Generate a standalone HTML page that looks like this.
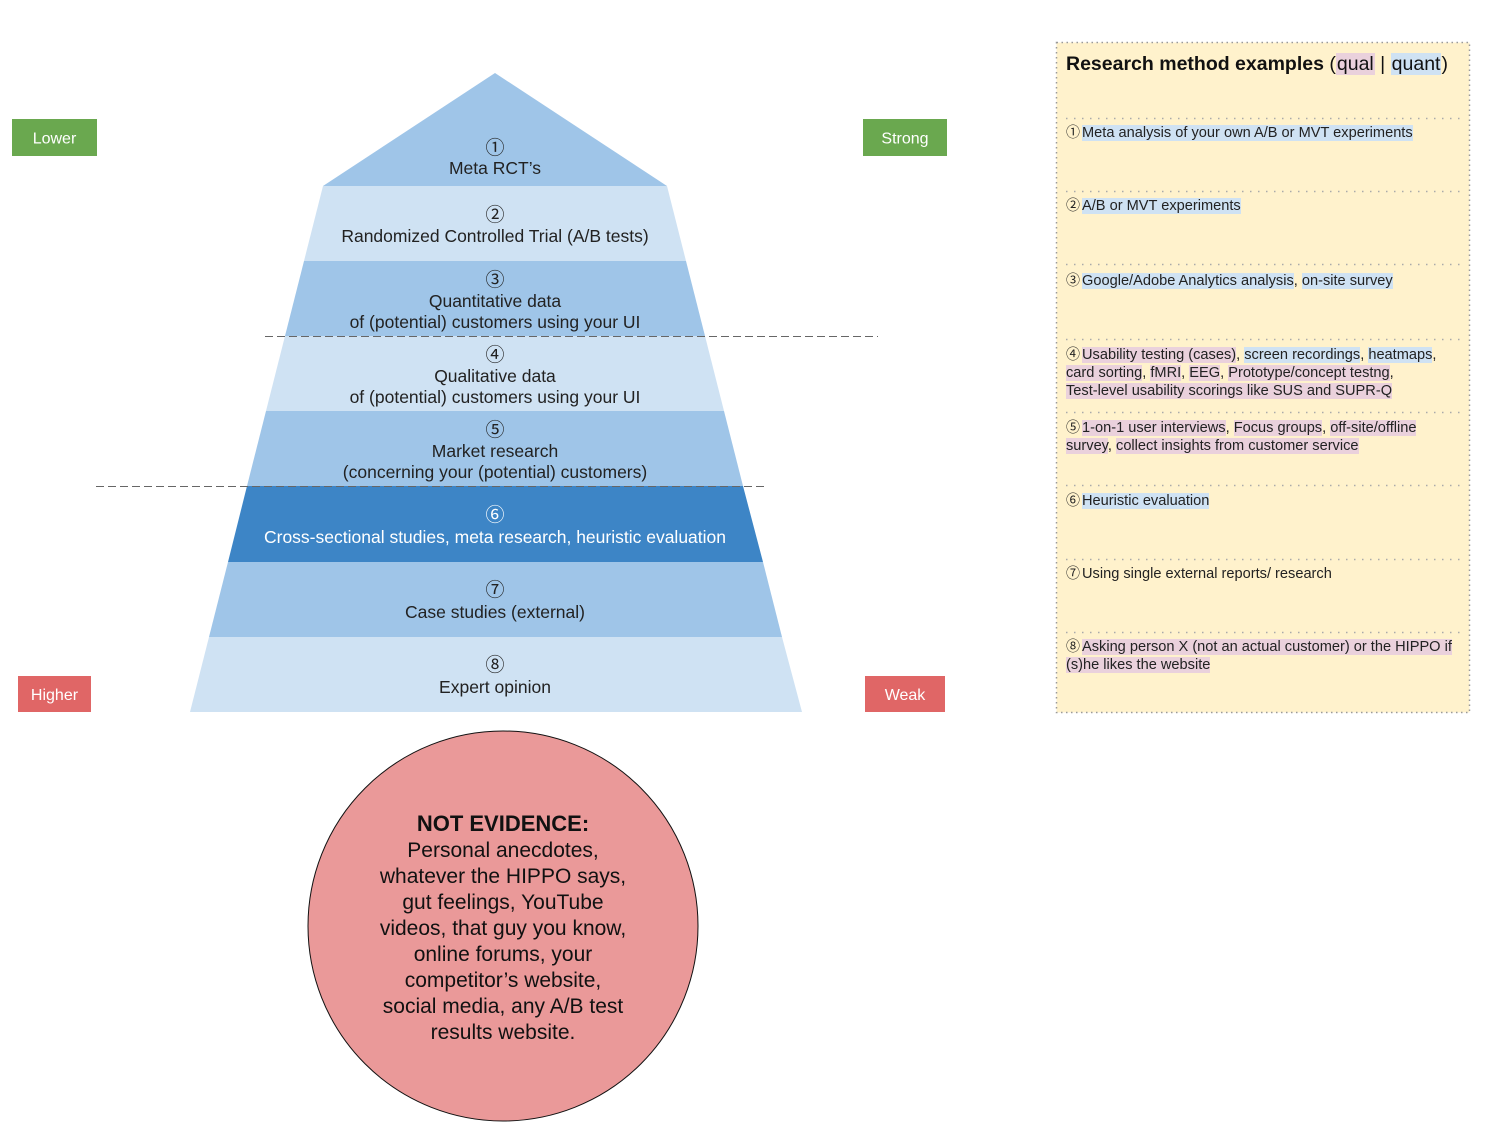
<!DOCTYPE html>
<html>
<head>
<meta charset="utf-8">
<style>
  html,body{margin:0;padding:0;background:#fff;}
  body{width:1498px;height:1133px;position:relative;overflow:hidden;font-family:"Liberation Sans","DejaVu Sans",sans-serif;}
  svg{position:absolute;left:0;top:0;}
  .row{position:absolute;left:1066px;font-size:14.6px;line-height:18px;color:#222;white-space:nowrap;}
  .n{font-family:"Noto Sans CJK JP","DejaVu Sans",sans-serif;font-size:14px;margin-right:2px;}
  .b{background:#cfe2f3;}
  .p{background:#ead1dc;}
  .title{position:absolute;left:1066px;top:52px;font-size:19.5px;line-height:24px;color:#111;white-space:nowrap;}
  .title b{font-weight:bold;}
  .title .p,.title .b{padding:0 1px;}
</style>
</head>
<body>
<svg width="1498" height="1133" viewBox="0 0 1498 1133" xmlns="http://www.w3.org/2000/svg" font-family="Liberation Sans, DejaVu Sans, sans-serif">
  <!-- pyramid -->
  <polygon points="495,73 667,186 323,186" fill="#9fc5e8"/>
  <polygon points="323,186 667,186 686,261 304,261" fill="#cfe2f3"/>
  <polygon points="304,261 686,261 705,336 285,336" fill="#9fc5e8"/>
  <polygon points="285,336 705,336 724,411 266,411" fill="#cfe2f3"/>
  <polygon points="266,411 724,411 743,486 247,486" fill="#9fc5e8"/>
  <polygon points="247,486 743,486 763,562 228,562" fill="#3d85c6"/>
  <polygon points="228,562 763,562 782,637 209,637" fill="#9fc5e8"/>
  <polygon points="209,637 782,637 802,712 190,712" fill="#cfe2f3"/>

  <!-- dashed lines -->
  <line x1="265" y1="336.5" x2="878" y2="336.5" stroke="#666" stroke-width="1" stroke-dasharray="8,4"/>
  <line x1="96" y1="486.5" x2="767" y2="486.5" stroke="#666" stroke-width="1" stroke-dasharray="8,4"/>

  <!-- pyramid text -->
  <g font-size="17.5" fill="#222" text-anchor="middle">
    <g font-family="Noto Sans CJK JP, DejaVu Sans, sans-serif" font-size="19">
      <text x="495" y="154">①</text>
      <text x="495" y="221">②</text>
      <text x="495" y="286">③</text>
      <text x="495" y="361">④</text>
      <text x="495" y="436">⑤</text>
      <text x="495" y="521" fill="#fff">⑥</text>
      <text x="495" y="596">⑦</text>
      <text x="495" y="671">⑧</text>
    </g>
    <text x="495" y="174">Meta RCT’s</text>
    <text x="495" y="242">Randomized Controlled Trial (A/B tests)</text>
    <text x="495" y="307">Quantitative data</text>
    <text x="495" y="328">of (potential) customers using your UI</text>
    <text x="495" y="382">Qualitative data</text>
    <text x="495" y="403">of (potential) customers using your UI</text>
    <text x="495" y="457">Market research</text>
    <text x="495" y="478">(concerning your (potential) customers)</text>
    <text x="495" y="543" fill="#fff">Cross-sectional studies, meta research, heuristic evaluation</text>
    <text x="495" y="618">Case studies (external)</text>
    <text x="495" y="693">Expert opinion</text>
  </g>

  <!-- side labels -->
  <rect x="12" y="119" width="85" height="37" fill="#6aa84f"/>
  <text x="54.5" y="143.5" font-size="16" fill="#fff" text-anchor="middle">Lower</text>
  <rect x="863" y="119" width="84" height="37" fill="#6aa84f"/>
  <text x="905" y="143.5" font-size="16" fill="#fff" text-anchor="middle">Strong</text>
  <rect x="18" y="676" width="73" height="36" fill="#e06666"/>
  <text x="54.5" y="700" font-size="16" fill="#fff" text-anchor="middle">Higher</text>
  <rect x="865" y="676" width="80" height="36" fill="#e06666"/>
  <text x="905" y="700" font-size="16" fill="#fff" text-anchor="middle">Weak</text>

  <!-- circle -->
  <circle cx="503" cy="926" r="195" fill="#ea9999" stroke="#111" stroke-width="1"/>
  <g text-anchor="middle" fill="#111">
    <text x="503" y="831" font-size="22" font-weight="bold">NOT EVIDENCE:</text>
    <g font-size="21">
      <text x="503" y="857">Personal anecdotes,</text>
      <text x="503" y="883">whatever the HIPPO says,</text>
      <text x="503" y="909">gut feelings, YouTube</text>
      <text x="503" y="935">videos, that guy you know,</text>
      <text x="503" y="961">online forums, your</text>
      <text x="503" y="987">competitor’s website,</text>
      <text x="503" y="1013">social media, any A/B test</text>
      <text x="503" y="1039">results website.</text>
    </g>
  </g>

  <!-- right panel -->
  <rect x="1056.5" y="42.5" width="413" height="670" fill="#fff2cc" stroke="#999" stroke-width="1.5" stroke-dasharray="1.5,3.5"/>
  <g stroke="#aaa" stroke-width="1.5" stroke-dasharray="1.5,6.5">
    <line x1="1066" y1="118.5" x2="1460" y2="118.5"/>
    <line x1="1066" y1="191.5" x2="1460" y2="191.5"/>
    <line x1="1066" y1="264.5" x2="1460" y2="264.5"/>
    <line x1="1066" y1="339.5" x2="1460" y2="339.5"/>
    <line x1="1066" y1="412.5" x2="1460" y2="412.5"/>
    <line x1="1066" y1="485.5" x2="1460" y2="485.5"/>
    <line x1="1066" y1="559.5" x2="1460" y2="559.5"/>
    <line x1="1066" y1="632.5" x2="1460" y2="632.5"/>
  </g>
</svg>

<div class="title"><b>Research method examples</b> (<span class="p">qual</span> | <span class="b">quant</span>)</div>

<div class="row" style="top:123px;"><span class="n">①</span><span class="b">Meta analysis of your own A/B or MVT experiments</span></div>
<div class="row" style="top:196px;"><span class="n">②</span><span class="b">A/B or MVT experiments</span></div>
<div class="row" style="top:271px;"><span class="n">③</span><span class="b">Google/Adobe Analytics analysis</span>, <span class="b">on-site survey</span></div>
<div class="row" style="top:345px;"><span class="n">④</span><span class="p">Usability testing (cases)</span>, <span class="b">screen recordings</span>, <span class="b">heatmaps</span>,<br><span class="p">card sorting</span>, <span class="p">fMRI</span>, <span class="p">EEG</span>, <span class="p">Prototype/concept testng</span>,<br><span class="p">Test-level usability scorings like SUS and SUPR-Q</span></div>
<div class="row" style="top:418px;"><span class="n">⑤</span><span class="p">1-on-1 user interviews</span>, <span class="p">Focus groups</span>, <span class="p">off-site/offline</span><br><span class="p">survey</span>, <span class="p">collect insights from customer service</span></div>
<div class="row" style="top:491px;"><span class="n">⑥</span><span class="b">Heuristic evaluation</span></div>
<div class="row" style="top:564px;"><span class="n">⑦</span>Using single external reports/ research</div>
<div class="row" style="top:637px;"><span class="n">⑧</span><span class="p">Asking person X (not an actual customer) or the HIPPO if</span><br><span class="p">(s)he likes the website</span></div>

</body>
</html>
